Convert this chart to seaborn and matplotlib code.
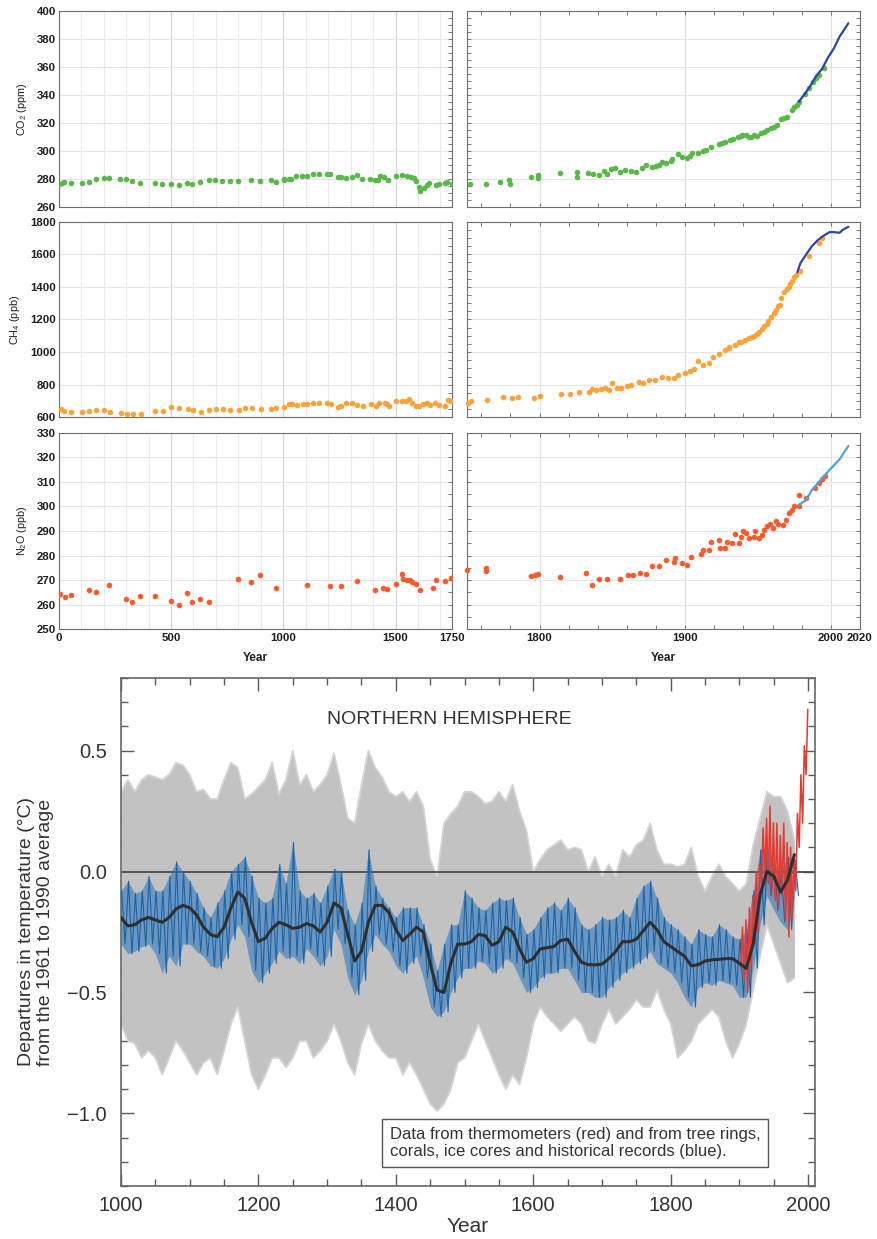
import matplotlib
matplotlib.use("Agg")
import matplotlib.pyplot as plt
from matplotlib.ticker import MultipleLocator, FixedLocator
import pandas as pd
import seaborn as sns

# ---------------- greenhouse gases: ice cores (dots) and instruments (lines) -------------
co2_pre_year = [0, 13, 25, 55, 102, 134, 168, 200, 226, 273, 300, 328, 364, 427, 462, 499, 536, 570, 594, 631,
                668, 698, 727, 763, 797, 856, 897, 944, 966, 1002, 1002, 1024, 1036, 1057, 1085, 1104, 1134, 1159,
                1194, 1208, 1245, 1257, 1278, 1305, 1330, 1349, 1386, 1409, 1424, 1431, 1449, 1468, 1502, 1527,
                1550, 1567, 1582, 1591, 1603, 1609, 1627, 1639, 1651, 1680, 1695, 1720, 1731, 1750]
co2_pre_ppm = [276.4, 277.1, 277.6, 277.1, 277.1, 277.6, 279.5, 280.2, 280.7, 279.5, 279.5, 278.6, 276.7, 276.7,
               276.4, 276.0, 275.5, 277.1, 276.4, 277.6, 278.8, 279.3, 278.1, 278.1, 278.1, 278.8, 278.6, 278.8,
               277.9, 279.0, 280.0, 280.0, 279.8, 282.1, 281.9, 282.1, 283.6, 283.6, 283.6, 283.1, 281.2, 281.2,
               280.7, 281.2, 282.9, 279.8, 280.0, 279.0, 279.0, 282.1, 281.4, 279.0, 282.1, 282.9, 282.1, 281.4,
               280.7, 278.3, 273.8, 271.4, 273.6, 275.5, 276.7, 275.5, 276.0, 276.9, 277.9, 276.4]
co2_ind_year = [1752, 1763, 1773, 1779, 1780, 1794, 1799, 1799, 1814, 1826, 1826, 1833, 1837, 1841, 1844, 1846,
                1849, 1852, 1855, 1859, 1863, 1866, 1870, 1873, 1877, 1882, 1884, 1887, 1891, 1895, 1898, 1901,
                1905, 1909, 1914, 1918, 1923, 1927, 1931, 1936, 1939, 1942, 1945, 1949, 1952, 1956, 1959, 1963,
                1966, 1970, 1973, 1977, 1978, 1982, 1988, 1992, 1995,
                1880, 1890, 1903, 1912, 1925, 1933, 1938, 1944, 1947, 1954, 1961, 1968, 1975, 1985, 1990]
co2_ind_ppm = [276.4, 276.2, 277.4, 279.0, 276.4, 281.2, 282.9, 280.5, 284.0, 281.0, 284.8, 283.8, 283.6, 282.6,
               285.7, 283.3, 287.1, 288.0, 285.0, 286.2, 285.7, 285.0, 287.4, 289.8, 288.6, 289.8, 292.1, 291.4,
               293.8, 297.6, 295.7, 294.5, 298.1, 298.6, 300.5, 302.9, 304.8, 306.4, 307.6, 309.5, 311.2, 311.2,
               310.0, 310.5, 312.4, 314.8, 316.0, 318.3, 322.4, 324.3, 329.0, 332.6, 335.0, 340.5, 349.3, 354.0,
               358.8,
               289.0, 292.5, 296.0, 300.0, 305.5, 308.5, 310.5, 309.5, 311.0, 313.5, 317.0, 323.5, 331.0, 345.0, 352.0]
co2_inst_year = [1978, 1982, 1986, 1990, 1994, 1998, 2002, 2006, 2012]
co2_inst_ppm = [335.0, 340.5, 346.5, 353.5, 358.5, 366.5, 373.0, 381.5, 391.0]

ch4_pre_year = [10, 25, 55, 105, 134, 168, 203, 229, 276, 303, 330, 367, 429, 463, 500, 537, 574, 597, 632, 668,
                700, 730, 763, 801, 831, 859, 900, 944, 968, 1003, 1026, 1038, 1060, 1087, 1107, 1134, 1161, 1194,
                1212, 1245, 1256, 1278, 1308, 1327, 1357, 1390, 1413, 1428, 1453, 1464, 1471, 1502, 1530, 1545,
                1562, 1572, 1591, 1606, 1621, 1639, 1654, 1676, 1695, 1720, 1732, 1746]
ch4_pre_ppb = [651, 639, 631, 631, 639, 643, 643, 631, 629, 623, 621, 623, 637, 639, 662, 658, 653, 645, 635, 643,
               651, 651, 643, 643, 660, 660, 649, 649, 655, 666, 682, 680, 674, 680, 680, 690, 690, 686, 680, 662,
               672, 688, 690, 676, 670, 682, 668, 686, 686, 680, 672, 699, 701, 703, 715, 690, 670, 670, 682, 686,
               676, 690, 678, 672, 707, 703]
ch4_ind_year = [1751, 1753, 1764, 1775, 1781, 1785, 1796, 1800, 1815, 1821, 1827, 1834, 1836, 1839, 1842, 1845,
                1848, 1850, 1853, 1856, 1860, 1863, 1868, 1871, 1875, 1879, 1884, 1888, 1892, 1895, 1900, 1903,
                1906, 1909, 1912, 1916, 1919, 1923, 1927, 1930, 1934, 1937, 1941, 1944, 1947, 1951, 1954, 1957,
                1959, 1962, 1965, 1968, 1971, 1973, 1976, 1979, 1985, 1992, 1994,
                1930, 1938, 1946, 1949, 1953, 1956, 1961, 1964, 1966, 1970, 1972, 1975]
ch4_ind_ppb = [690, 700, 707, 723, 719, 727, 717, 733, 742, 744, 758, 758, 772, 768, 774, 779, 768, 809, 779, 779,
               793, 799, 815, 809, 826, 826, 850, 844, 844, 860, 871, 881, 895, 943, 922, 932, 969, 990, 1014, 1025,
               1045, 1060, 1076, 1086, 1101, 1121, 1158, 1189, 1215, 1261, 1291, 1367, 1400, 1439, 1476, 1496,
               1589, 1671, 1702,
               1030, 1065, 1095, 1110, 1140, 1170, 1240, 1280, 1330, 1385, 1420, 1460]
ch4_inst_year = [1977, 1979, 1983, 1987, 1991, 1994, 1999, 2002, 2006, 2008, 2012]
ch4_inst_ppb = [1490, 1544, 1599, 1650, 1687, 1708, 1736, 1736, 1732, 1749, 1769]

n2o_pre_year = [7, 28, 55, 134, 168, 226, 300, 327, 364, 427, 499, 536, 570, 594, 631, 668, 797, 856, 897, 966,
                1104, 1208, 1256, 1330, 1409, 1446, 1461, 1501, 1527, 1535, 1550, 1564, 1573, 1591, 1609, 1666,
                1680, 1720, 1746]
n2o_pre_ppb = [264.4, 263.0, 264.1, 266.0, 265.0, 268.2, 262.2, 261.3, 263.7, 263.4, 261.5, 260.0, 264.6, 261.0,
               262.2, 261.1, 270.6, 269.3, 272.0, 266.7, 268.2, 267.6, 267.5, 269.5, 266.0, 266.9, 266.4, 268.3,
               272.6, 270.3, 270.1, 270.1, 269.4, 268.3, 266.0, 266.8, 269.9, 269.7, 270.9]
n2o_ind_year = [1750, 1763, 1763, 1794, 1797, 1799, 1814, 1832, 1836, 1841, 1846, 1855, 1861, 1864, 1869, 1873,
                1877, 1882, 1887, 1892, 1893, 1898, 1901, 1904, 1911, 1912, 1916, 1918, 1923, 1924, 1927, 1929,
                1932, 1934, 1937, 1938, 1940, 1942, 1944, 1947, 1948, 1951, 1953, 1954, 1956, 1958, 1960, 1962,
                1964, 1967, 1969, 1971, 1973, 1975, 1978, 1978, 1983, 1989, 1992, 1994, 1996]
n2o_ind_ppb = [274.0, 274.8, 273.9, 271.8, 272.2, 272.6, 271.3, 273.0, 268.2, 270.3, 270.3, 270.3, 272.2, 271.9,
               272.8, 272.5, 275.8, 275.8, 278.2, 277.5, 278.9, 276.8, 276.3, 279.6, 280.6, 282.3, 282.3, 285.4,
               286.3, 283.2, 282.9, 285.4, 285.3, 288.6, 285.3, 287.7, 290.0, 289.1, 287.0, 287.7, 290.1, 287.0,
               288.4, 290.4, 292.0, 292.7, 291.1, 294.2, 292.8, 292.4, 294.5, 297.2, 298.5, 300.2, 304.6, 300.2,
               303.6, 307.4, 309.7, 311.0, 312.4]
n2o_inst_year = [1978, 1983, 1987, 1992, 1999, 2006, 2012]
n2o_inst_ppb = [300.6, 302.6, 306.7, 310.1, 314.8, 319.2, 324.6]

# ---------------- Northern Hemisphere temperature reconstruction (per decade) ----------------
decades = list(range(1000, 1990, 10))
smooth = [-0.19, -0.225, -0.22, -0.20, -0.19, -0.20, -0.21, -0.19, -0.155, -0.14,
          -0.15, -0.18, -0.23, -0.26, -0.27, -0.23, -0.15, -0.085, -0.11, -0.21,
          -0.29, -0.275, -0.235, -0.21, -0.22, -0.235, -0.23, -0.215, -0.225, -0.25,
          -0.21, -0.13, -0.15, -0.26, -0.37, -0.33, -0.21, -0.14, -0.14, -0.17,
          -0.24, -0.285, -0.26, -0.23, -0.25, -0.38, -0.49, -0.50, -0.38, -0.30,
          -0.30, -0.29, -0.26, -0.265, -0.305, -0.29, -0.23, -0.25, -0.32, -0.375,
          -0.36, -0.32, -0.315, -0.31, -0.285, -0.28, -0.33, -0.375, -0.385, -0.386,
          -0.383, -0.36, -0.33, -0.29, -0.29, -0.28, -0.245, -0.21, -0.24, -0.29,
          -0.31, -0.33, -0.35, -0.39, -0.385, -0.37, -0.365, -0.363, -0.36, -0.36,
          -0.38, -0.40, -0.30, -0.10, 0.00, -0.02, -0.085, -0.035, 0.07]
blue_hi = [-0.08, -0.04, -0.09, -0.08, -0.02, -0.08, -0.08, -0.02, 0.04, 0.00,
           -0.04, -0.09, -0.15, -0.19, -0.13, -0.08, 0.00, 0.03, 0.06, -0.02,
           -0.11, -0.13, -0.11, 0.03, -0.05, 0.12, -0.08, -0.11, -0.09, -0.13,
           -0.06, 0.01, 0.00, -0.16, -0.22, -0.13, 0.09, -0.06, -0.11, -0.15,
           -0.19, -0.15, -0.15, -0.15, -0.22, -0.30, -0.41, -0.30, -0.22, -0.22,
           -0.08, -0.11, -0.15, -0.16, -0.13, -0.11, -0.12, -0.11, -0.19, -0.26,
           -0.24, -0.19, -0.15, -0.13, -0.16, -0.11, -0.15, -0.22, -0.24, -0.22,
           -0.19, -0.20, -0.19, -0.16, -0.19, -0.11, -0.06, -0.04, -0.11, -0.19,
           -0.22, -0.24, -0.27, -0.30, -0.24, -0.26, -0.27, -0.22, -0.24, -0.27,
           -0.28, -0.24, -0.08, 0.09, 0.10, 0.03, 0.00, 0.06, 0.05]
blue_lo = [-0.30, -0.34, -0.33, -0.31, -0.30, -0.34, -0.42, -0.35, -0.39, -0.30,
           -0.30, -0.33, -0.35, -0.39, -0.40, -0.36, -0.28, -0.22, -0.27, -0.41,
           -0.46, -0.42, -0.38, -0.33, -0.36, -0.35, -0.38, -0.32, -0.35, -0.39,
           -0.35, -0.24, -0.30, -0.44, -0.51, -0.45, -0.33, -0.26, -0.30, -0.33,
           -0.39, -0.42, -0.38, -0.35, -0.44, -0.56, -0.60, -0.58, -0.50, -0.44,
           -0.40, -0.40, -0.37, -0.38, -0.42, -0.40, -0.36, -0.38, -0.44, -0.50,
           -0.48, -0.44, -0.42, -0.42, -0.40, -0.40, -0.45, -0.50, -0.50, -0.52,
           -0.52, -0.48, -0.45, -0.42, -0.40, -0.38, -0.36, -0.33, -0.38, -0.40,
           -0.42, -0.46, -0.52, -0.56, -0.48, -0.46, -0.47, -0.45, -0.46, -0.47,
           -0.52, -0.52, -0.40, -0.22, -0.10, -0.16, -0.21, -0.24, -0.10]
gray_hi = [0.33, 0.38, 0.33, 0.38, 0.40, 0.39, 0.38, 0.40, 0.45, 0.44,
           0.40, 0.33, 0.34, 0.30, 0.30, 0.38, 0.45, 0.43, 0.30, 0.32,
           0.35, 0.38, 0.45, 0.32, 0.38, 0.50, 0.36, 0.40, 0.33, 0.36,
           0.40, 0.49, 0.36, 0.22, 0.20, 0.36, 0.50, 0.43, 0.39, 0.33,
           0.31, 0.33, 0.29, 0.33, 0.27, 0.05, -0.02, 0.20, 0.24, 0.27,
           0.33, 0.33, 0.31, 0.28, 0.29, 0.33, 0.29, 0.36, 0.25, 0.17,
           0.00, 0.05, 0.09, 0.11, 0.13, 0.09, 0.10, 0.09, 0.00, 0.06,
           -0.02, 0.03, -0.02, 0.09, 0.06, 0.11, 0.13, 0.20, 0.09, 0.03,
           0.03, 0.02, 0.03, 0.10, -0.02, -0.08, -0.02, 0.03, -0.02, -0.05,
           -0.08, -0.05, 0.11, 0.22, 0.33, 0.31, 0.31, 0.25, 0.13]
gray_lo = [-0.63, -0.70, -0.71, -0.77, -0.74, -0.77, -0.84, -0.77, -0.70, -0.74,
           -0.79, -0.84, -0.79, -0.77, -0.84, -0.74, -0.63, -0.56, -0.70, -0.84,
           -0.90, -0.84, -0.77, -0.77, -0.81, -0.77, -0.70, -0.70, -0.77, -0.74,
           -0.70, -0.63, -0.70, -0.79, -0.84, -0.71, -0.63, -0.70, -0.74, -0.77,
           -0.77, -0.84, -0.79, -0.84, -0.90, -0.96, -0.99, -0.96, -0.90, -0.79,
           -0.77, -0.70, -0.63, -0.70, -0.77, -0.84, -0.90, -0.84, -0.88, -0.77,
           -0.63, -0.56, -0.60, -0.63, -0.66, -0.63, -0.60, -0.63, -0.70, -0.71,
           -0.63, -0.57, -0.63, -0.60, -0.57, -0.53, -0.56, -0.56, -0.49, -0.57,
           -0.63, -0.77, -0.74, -0.70, -0.63, -0.60, -0.57, -0.60, -0.70, -0.77,
           -0.71, -0.63, -0.49, -0.35, -0.22, -0.30, -0.38, -0.46, -0.44]
red_bins = [1900, 1905, 1910, 1915, 1920, 1925, 1930, 1935, 1940, 1945,
            1950, 1955, 1960, 1965, 1970, 1975, 1980, 1985, 1990, 1995]
red_hi = [-0.23, -0.20, -0.15, -0.10, 0.00, 0.03, 0.18, 0.22, 0.27, 0.20,
          0.20, 0.15, 0.20, 0.12, 0.10, 0.05, 0.24, 0.40, 0.52, 0.67]
red_lo = [-0.40, -0.45, -0.50, -0.40, -0.30, -0.25, -0.05, -0.02, -0.05, -0.10,
          -0.12, -0.15, -0.10, -0.20, -0.27, -0.20, -0.08, 0.10, 0.20, 0.40]

# ---------------- style ----------------
sns.set_theme(style="white")
plt.rcParams['font.family'] = ['Liberation Sans', 'DejaVu Sans']
plt.rcParams['mathtext.default'] = 'regular'

W_PX, H_PX = 878, 1239
fig = plt.figure(figsize=(W_PX / 100, H_PX / 100), dpi=100)


def place(l, t, r, b):
    return fig.add_axes([l / W_PX, 1 - b / H_PX, (r - l) / W_PX, (b - t) / H_PX])


rows = [(10.7, 206.7), (221.7, 417.3), (432.7, 629.3)]
gases = [
    dict(label='CO$_2$ (ppm)', ylim=(260, 400), major=20, minor=5,
         pre=(co2_pre_year, co2_pre_ppm), ind=(co2_ind_year, co2_ind_ppm),
         inst=(co2_inst_year, co2_inst_ppm), dot='#58b848', line='#2a45a6', labx=22),
    dict(label='CH$_4$ (ppb)', ylim=(600, 1800), major=200, minor=50,
         pre=(ch4_pre_year, ch4_pre_ppb), ind=(ch4_ind_year, ch4_ind_ppb),
         inst=(ch4_inst_year, ch4_inst_ppb), dot='#fba33b', line='#2a45a6', labx=15),
    dict(label='N$_2$O (ppb)', ylim=(250, 330), major=10, minor=5,
         pre=(n2o_pre_year, n2o_pre_ppb), ind=(n2o_ind_year, n2o_ind_ppb),
         inst=(n2o_inst_year, n2o_inst_ppb), dot='#fb5a2c', line='#4ba4dd', labx=22),
]

TXT = '#1e1e1e'
for i, (g, (top, bot)) in enumerate(zip(gases, rows)):
    axL = place(58.7, top, 451.7, bot)
    axR = place(466.7, top, 860.0, bot)
    sns.scatterplot(x=g['pre'][0], y=g['pre'][1], ax=axL, color=g['dot'], s=16,
                    linewidth=0, zorder=3, legend=False)
    sns.scatterplot(x=g['ind'][0], y=g['ind'][1], ax=axR, color=g['dot'], s=16,
                    linewidth=0, zorder=3, legend=False, clip_on=False)
    sns.lineplot(x=g['inst'][0], y=g['inst'][1], ax=axR, color=g['line'], lw=1.6,
                 zorder=4, legend=False)
    for ax in (axL, axR):
        ax.set_ylim(*g['ylim'])
        ax.yaxis.set_major_locator(MultipleLocator(g['major']))
        ax.yaxis.set_minor_locator(MultipleLocator(g['minor']))
        ax.grid(True, which='major', axis='y', color='#e6e6e6', lw=0.8)
        ax.set_axisbelow(True)
        for s in ax.spines.values():
            s.set_color('#6e6e6e')
            s.set_linewidth(0.8)
        ax.set_xlabel('')
        ax.set_ylabel('')
    axL.set_xlim(0, 1750)
    axL.xaxis.set_major_locator(FixedLocator([0, 500, 1000, 1500, 1750]))
    axL.xaxis.set_minor_locator(MultipleLocator(100))
    axL.grid(True, which='minor', axis='x', color='#ebebeb', lw=0.8)
    axL.grid(True, which='major', axis='x', color='#d4d4d4', lw=0.8)
    axL.tick_params(axis='x', which='both', length=0, pad=3)
    axL.tick_params(axis='y', which='both', direction='in', left=False, right=True,
                    length=3, width=0.6, color='#666666')
    axL.tick_params(axis='y', labelsize=8.2, pad=2, labelcolor=TXT)

    axR.set_xlim(1750, 2020)
    axR.xaxis.set_major_locator(FixedLocator([1800, 1900, 2000, 2020]))
    axR.xaxis.set_minor_locator(MultipleLocator(20))
    axR.grid(True, which='major', axis='x', color='#e0e0e0', lw=0.8)
    axR.tick_params(axis='x', which='both', direction='in', top=True, bottom=True,
                    length=3, width=0.6, color='#666666', pad=3)
    axR.tick_params(axis='y', which='both', direction='in', left=True, right=True,
                    length=3, width=0.6, color='#666666', labelleft=False)

    axL.text((g['labx'] - 58.7) / 393.0, 0.5, g['label'], transform=axL.transAxes,
             rotation=90, ha='center', va='center', fontsize=7.8, color=TXT)

    if i < 2:
        axL.tick_params(axis='x', labelbottom=False)
        axR.tick_params(axis='x', labelbottom=False)
    else:
        for ax in (axL, axR):
            ax.tick_params(axis='x', labelsize=8.2, labelcolor=TXT)
            ax.text(0.5, -(658 - 629.3) / 196.6, 'Year', transform=ax.transAxes,
                    ha='center', va='center', fontsize=8.6, fontweight='bold', color=TXT)
    for ax in (axL, axR):
        for lbl in ax.get_xticklabels() + ax.get_yticklabels():
            lbl.set_fontweight('bold')

# ---------------- temperature panel ----------------
axT = place(121, 678, 815, 1186)
axT.fill_between(decades, gray_lo, gray_hi, color='#c2c2c2', lw=0, zorder=1)
axT.plot(decades, gray_hi, color='#d4d4d4', lw=1.2, zorder=1)
axT.plot(decades, gray_lo, color='#d4d4d4', lw=1.2, zorder=1)
axT.axhline(0, color='#4a4a4a', lw=1.3, zorder=2)

blue_x, blue_y = [], []
for d, hi, lo in zip(decades, blue_hi, blue_lo):
    blue_x += [d + 1, d + 6]
    blue_y += [hi, lo]
blue_df = pd.DataFrame({'year': blue_x, 'temp': blue_y})
red_x, red_y = [], []
for b, hi, lo in zip(red_bins, red_hi, red_lo):
    red_x += [b + 2, b + 4.5]
    red_y += [lo, hi]
red_df = pd.DataFrame({'year': red_x, 'temp': red_y})
smooth_df = pd.DataFrame({'year': decades, 'temp': smooth})

axT.fill_between(decades, blue_lo, blue_hi, color='#2a72b8', alpha=0.55, lw=0, zorder=3)
sns.lineplot(data=blue_df, x='year', y='temp', ax=axT, color='#1565b0', lw=0.8,
             estimator=None, sort=False, zorder=3, legend=False)
sns.lineplot(data=red_df, x='year', y='temp', ax=axT, color='#e8372c', lw=1.1,
             estimator=None, sort=False, zorder=4, legend=False)
sns.lineplot(data=smooth_df, x='year', y='temp', ax=axT, color='#2e2e2e', lw=2.2,
             estimator=None, zorder=5, legend=False)

axT.set_xlim(1000, 2010)
axT.set_ylim(-1.3, 0.8)
axT.set_xlabel('')
axT.set_ylabel('')
axT.xaxis.set_major_locator(MultipleLocator(200))
axT.xaxis.set_minor_locator(MultipleLocator(50))
axT.yaxis.set_major_locator(MultipleLocator(0.5))
axT.yaxis.set_minor_locator(MultipleLocator(0.1))
axT.tick_params(which='both', direction='in', top=True, bottom=True, left=True, right=True,
                color='#5a5a5a', width=1)
axT.tick_params(which='major', length=9)
axT.tick_params(which='minor', length=5)
axT.tick_params(axis='x', labelsize=14.5, pad=7, labelcolor='#333333')
axT.tick_params(axis='y', labelsize=14.5, pad=10, labelcolor='#333333')
for s in axT.spines.values():
    s.set_color('#666666')
    s.set_linewidth(1.2)

axT.text((36 - 121) / 694, 0.5,
         'Departures in temperature (\u00b0C)\nfrom the 1961 to 1990 average',
         transform=axT.transAxes, rotation=90, ha='center', va='center',
         fontsize=14, color='#333333', linespacing=1.15)
axT.text(0.5, (1186 - 1226) / 508, 'Year', transform=axT.transAxes, ha='center',
         va='center', fontsize=15, color='#333333')
axT.text((449 - 121) / 694, (1186 - 719) / 508, 'NORTHERN HEMISPHERE', transform=axT.transAxes,
         ha='center', va='center', fontsize=14, color='#333333', zorder=6)
axT.text((575 - 121) / 694, (1186 - 1143) / 508,
         'Data from thermometers (red) and from tree rings,\ncorals, ice cores and historical records (blue).',
         transform=axT.transAxes, ha='center', va='center', multialignment='left',
         fontsize=12, color='#333333', zorder=7,
         bbox=dict(boxstyle='square,pad=0.45', fc='white', ec='#555555', lw=1))

fig.savefig('out.png', dpi=100)
